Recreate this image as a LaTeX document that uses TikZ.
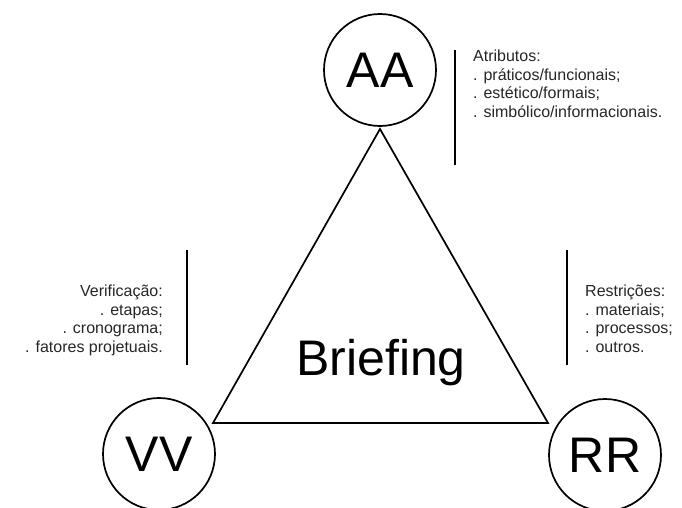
\documentclass[tikz,border=0pt]{standalone}
\usepackage{fontspec}
\setmainfont{Liberation Sans}
\usepackage{xcolor}
\usetikzlibrary{positioning}

\begin{document}
\begin{tikzpicture}[x=1pt,y=-1pt,
    sigla/.style={circle, draw, line width=1.7pt, minimum size=112pt,
      inner sep=0pt, font=\fontsize{50}{50}\selectfont},
    lista/.style={font=\fontsize{16}{18.5}\selectfont, text=black!85,
      inner sep=0pt},
    barra/.style={line width=2.4pt}]
  \useasboundingbox (0,0) rectangle (682,508);

  % the three corners
  \node[sigla] (aa) at (380,70) {AA};
  \node[sigla] (vv) at (159,454) {VV};
  \node[sigla] (rr) at (605,455) {RR};

  % triangle of the briefing
  \coordinate (topo) at (380,129);
  \coordinate (esq) at (213,423);
  \coordinate (dir) at (548,423);
  \draw[line width=1.7pt, line join=miter] (topo) -- (esq) -- (dir) -- cycle;
  \node[font=\fontsize{50}{50}\selectfont, inner sep=0pt, anchor=base]
    (briefing) at (381,375) {Briefing};

  % notes beside each corner
  \node[lista, anchor=north west, align=left] (atrib) at (473,50)
    {Atributos:\\. práticos/funcionais;\\. estético/formais;\\. simbólico/informacionais.};
  \node[lista, anchor=north east, align=right] (verif) at (163,285)
    {Verificação:\\. etapas;\\. cronograma;\\. fatores projetuais.};
  \node[lista, anchor=north west, align=left] (restr) at (585,285)
    {Restrições:\\. materiais;\\. processos;\\. outros.};

  \draw[barra] (455,50) -- (455,165);
  \draw[barra] (187,250) -- (187,365);
  \draw[barra] (567,250) -- (567,365);
\end{tikzpicture}
\end{document}
